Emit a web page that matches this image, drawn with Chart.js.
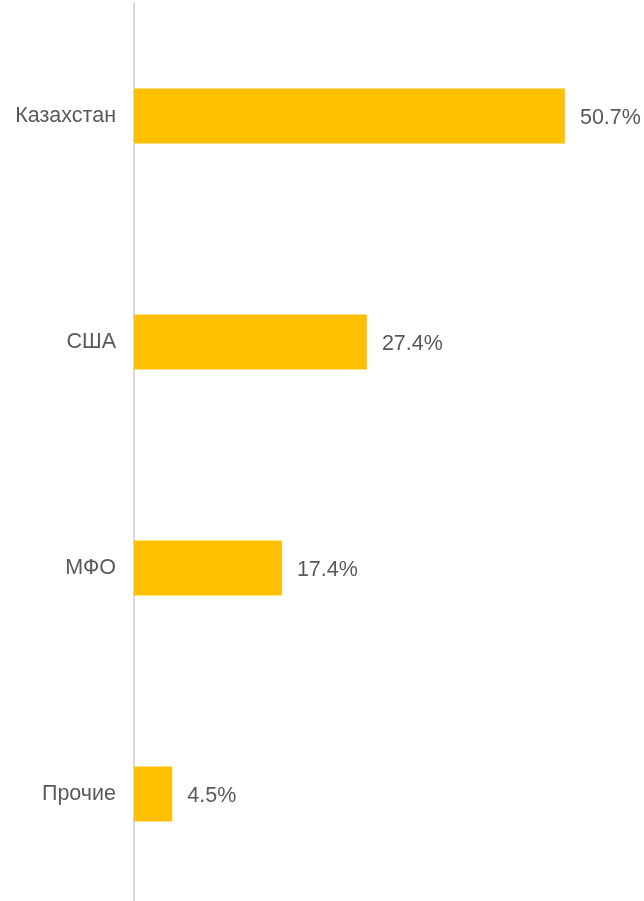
<!DOCTYPE html>
<html>
<head>
<meta charset="utf-8">
<script src="https://cdn.jsdelivr.net/npm/chart.js@4"></script>
<style>
  html, body { margin: 0; padding: 0; background: #fff; overflow: hidden; }
  #wrap { width: 644px; height: 907px; }
</style>
</head>
<body>
<div id="wrap"><canvas id="c" width="644" height="907"></canvas></div>
<script>
// Shares by category, percent
const categories = ['Казахстан', 'США', 'МФО', 'Прочие'];
const shares = [50.7, 27.4, 17.4, 4.5];

const FONT = "'Liberation Sans', Arial, sans-serif";
const TEXT = '#595959';
const SIZE = 21.5;

// Prints each bar's value just past its end
const valueLabels = {
  id: 'valueLabels',
  afterDatasetsDraw(chart) {
    const ctx = chart.ctx;
    const meta = chart.getDatasetMeta(0);
    ctx.save();
    ctx.font = SIZE + 'px ' + FONT;
    ctx.fillStyle = TEXT;
    ctx.textAlign = 'left';
    ctx.textBaseline = 'middle';
    meta.data.forEach((bar, i) => {
      ctx.fillText(shares[i].toFixed(1) + '%', bar.x + 15, bar.y + 2);
    });
    ctx.restore();
  }
};

new Chart(document.getElementById('c'), {
  type: 'bar',
  data: {
    labels: categories,
    datasets: [{
      data: shares,
      backgroundColor: '#FFC000',
      borderWidth: 0,
      categoryPercentage: 1,
      barPercentage: 0.2434
    }]
  },
  options: {
    indexAxis: 'y',
    responsive: false,
    animation: false,
    layout: { padding: { top: 3, right: 0, bottom: 0, left: 0 } },
    plugins: { legend: { display: false }, tooltip: { enabled: false } },
    scales: {
      x: {
        display: false,
        min: 0,
        max: 60
      },
      y: {
        afterFit(scale) {
          scale.width = 134;
          scale.paddingTop = 0;
          scale.paddingBottom = 0;
        },
        grid: { display: false, drawTicks: false },
        border: { display: true, color: '#D9D9D9', width: 2 },
        ticks: {
          color: TEXT,
          padding: 18,
          font: { family: FONT, size: SIZE }
        }
      }
    }
  },
  plugins: [valueLabels]
});
</script>
</body>
</html>
